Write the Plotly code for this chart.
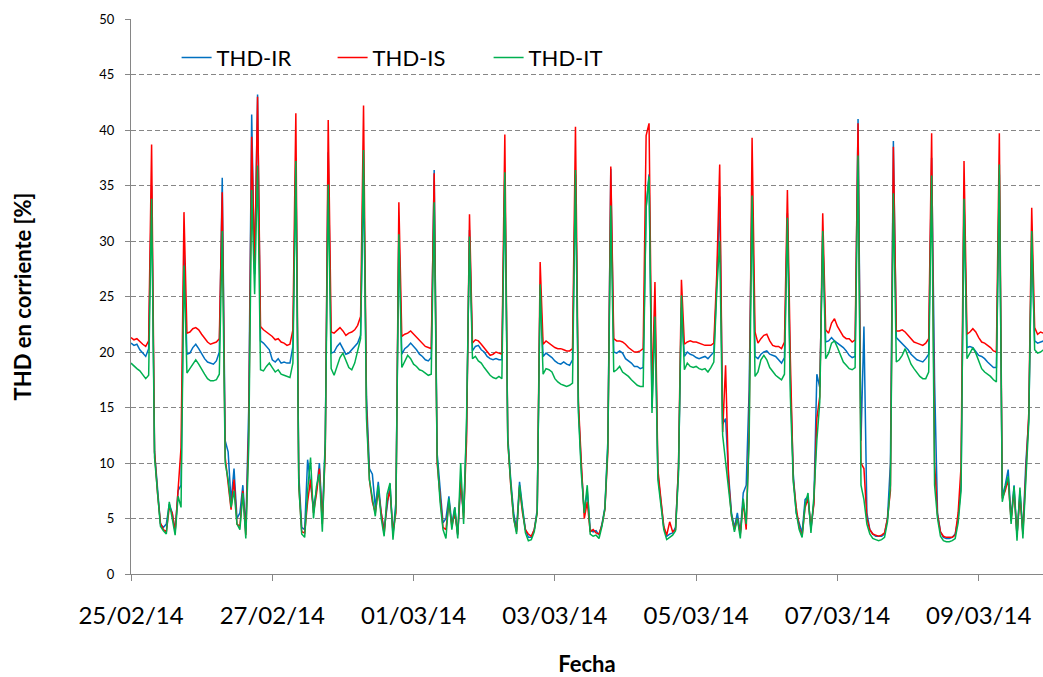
import pandas as pd
import plotly.graph_objects as go

# Hourly samples starting 25/02/2014 00:00 (one row per day)
start_time = "2014-02-25 00:00"

thd_ir = [
    20.8, 20.6, 20.7, 20.2, 19.9, 19.6, 20.3, 35.0, 11.0, 7.5, 4.5, 4.2, 4.5, 6.3, 5.5, 3.9, 7.5, 8.0, 29.0, 19.8, 19.9, 20.4, 20.7, 20.3,
    19.8, 19.4, 19.1, 19.0, 18.9, 19.2, 20.0, 35.7, 12.0, 11.0, 6.5, 9.5, 5.0, 5.5, 8.0, 4.0, 15.0, 41.4, 27.0, 43.2, 21.0, 20.8, 20.5, 20.2,
    19.3, 19.1, 19.4, 19.0, 19.1, 19.0, 19.0, 20.5, 37.5, 9.0, 4.2, 4.0, 10.3, 8.0, 6.0, 7.5, 10.0, 5.0, 12.0, 38.0, 19.9, 20.0, 20.5, 20.8,
    20.3, 19.8, 19.9, 20.2, 20.4, 20.8, 21.5, 36.0, 16.0, 9.5, 9.0, 6.0, 8.3, 5.5, 4.0, 6.0, 8.1, 3.5, 6.5, 31.0, 19.8, 20.3, 20.5, 20.8,
    20.5, 20.2, 19.8, 19.6, 19.3, 19.2, 19.5, 36.4, 10.9, 8.0, 4.6, 5.0, 7.0, 4.5, 6.0, 3.5, 8.0, 5.5, 13.0, 31.0, 20.1, 20.5, 20.6, 20.2,
    20.0, 19.6, 19.4, 19.3, 19.4, 19.3, 19.3, 36.0, 12.4, 8.5, 5.5, 4.0, 8.3, 6.0, 4.0, 3.3, 3.3, 4.0, 5.8, 26.0, 19.6, 19.9, 19.7, 19.5,
    19.2, 19.0, 18.9, 19.1, 18.9, 18.8, 19.3, 36.0, 15.0, 9.5, 5.5, 7.5, 4.0, 3.8, 3.9, 3.5, 4.5, 6.0, 12.0, 36.5, 20.0, 19.9, 20.1, 19.9,
    19.4, 19.2, 19.0, 18.7, 18.7, 18.5, 18.6, 33.0, 36.0, 15.0, 24.0, 9.0, 6.5, 4.2, 3.4, 3.6, 3.7, 4.2, 9.5, 24.0, 19.6, 20.0, 19.8, 19.7,
    19.5, 19.4, 19.5, 19.6, 19.4, 19.7, 20.0, 26.0, 34.0, 13.5, 14.0, 9.0, 5.5, 4.2, 5.5, 3.7, 7.3, 8.0, 16.6, 35.0, 19.6, 19.4, 19.8, 20.0,
    20.1, 19.8, 19.7, 19.6, 19.3, 19.0, 19.5, 32.5, 17.5, 9.0, 5.5, 4.5, 3.7, 6.7, 7.0, 4.0, 6.5, 18.0, 16.8, 30.5, 20.9, 21.0, 21.3, 21.0,
    20.8, 20.6, 20.4, 20.1, 19.7, 19.5, 19.6, 41.0, 12.0, 22.3, 5.5, 4.0, 3.6, 3.4, 3.4, 3.4, 3.6, 5.0, 10.0, 39.0, 21.3, 21.0, 20.8, 20.5,
    20.2, 19.8, 19.5, 19.3, 19.2, 19.1, 19.4, 19.8, 37.5, 17.4, 5.5, 3.8, 3.3, 3.2, 3.2, 3.3, 3.6, 5.0, 8.0, 34.0, 20.4, 20.5, 20.4, 20.0,
    19.7, 19.6, 19.4, 19.1, 18.8, 18.6, 18.6, 36.0, 7.0, 8.0, 9.4, 5.0, 8.0, 3.5, 7.5, 3.8, 10.0, 14.0, 30.0, 21.0, 20.8, 20.9, 21.0,
]

thd_is = [
    21.3, 21.1, 21.2, 20.9, 20.7, 20.5, 21.0, 38.7, 11.0, 7.3, 4.6, 4.0, 3.8, 6.0, 5.5, 3.8, 7.3, 11.4, 32.6, 21.7, 21.8, 22.1, 22.2, 22.0,
    21.6, 21.2, 20.9, 20.7, 20.8, 20.9, 21.2, 34.4, 10.5, 8.0, 5.8, 8.5, 4.5, 4.3, 7.5, 3.5, 13.0, 39.4, 27.5, 43.0, 22.3, 22.0, 21.8, 21.6,
    21.4, 21.1, 21.2, 20.9, 20.8, 20.6, 20.7, 22.0, 41.5, 8.0, 3.8, 3.7, 6.5, 8.5, 5.5, 7.2, 9.5, 4.5, 11.0, 40.9, 21.8, 21.7, 22.0, 22.2,
    21.9, 21.5, 21.7, 21.8, 22.0, 22.4, 23.2, 42.2, 15.0, 8.5, 6.5, 5.5, 7.5, 5.3, 3.6, 6.5, 7.5, 3.8, 5.5, 33.5, 21.4, 21.6, 21.7, 21.9,
    21.6, 21.3, 21.0, 20.8, 20.5, 20.4, 20.3, 36.1, 10.0, 7.0, 4.2, 4.0, 6.5, 4.3, 5.5, 3.6, 8.5, 5.0, 12.0, 32.4, 20.8, 21.1, 21.0, 20.7,
    20.4, 20.1, 19.7, 19.8, 20.0, 19.9, 19.8, 39.6, 12.0, 8.0, 5.0, 3.8, 7.8, 5.5, 4.0, 3.6, 3.4, 4.0, 5.5, 28.1, 20.7, 21.0, 20.8, 20.6,
    20.4, 20.3, 20.3, 20.2, 20.1, 20.1, 20.3, 40.3, 15.5, 10.0, 5.0, 6.5, 3.8, 4.0, 3.7, 3.6, 4.4, 5.8, 11.0, 36.7, 21.2, 21.0, 21.0, 20.9,
    20.7, 20.4, 20.2, 20.0, 20.0, 20.1, 20.3, 39.5, 40.6, 16.0, 26.3, 9.4, 6.8, 4.3, 3.5, 4.7, 3.8, 4.0, 9.7, 26.5, 20.7, 20.9, 21.0, 20.9,
    20.9, 20.8, 20.7, 20.6, 20.6, 20.6, 20.8, 27.0, 36.9, 12.8, 18.8, 8.5, 5.2, 4.0, 5.0, 3.6, 6.5, 4.0, 13.0, 39.3, 21.8, 20.8, 21.2, 21.5,
    21.6, 21.0, 20.6, 20.5, 20.5, 20.3, 20.9, 34.6, 19.4, 8.5, 6.0, 4.2, 3.4, 6.0, 6.8, 4.2, 6.3, 14.0, 16.0, 32.5, 22.0, 21.7, 22.6, 23.0,
    22.3, 21.8, 21.4, 21.2, 21.2, 20.9, 21.1, 40.6, 10.0, 9.5, 5.0, 4.0, 3.6, 3.5, 3.4, 3.5, 3.7, 5.0, 7.5, 38.5, 21.9, 21.9, 22.0, 21.8,
    21.5, 21.1, 20.9, 20.8, 20.7, 20.6, 20.8, 21.2, 39.7, 10.0, 5.3, 3.8, 3.4, 3.3, 3.3, 3.3, 3.5, 5.5, 9.7, 37.2, 21.6, 21.8, 22.1, 21.8,
    21.3, 20.9, 20.8, 20.6, 20.4, 20.1, 20.0, 39.7, 6.8, 7.5, 8.5, 4.8, 7.5, 3.5, 7.0, 3.6, 9.5, 14.5, 33.0, 22.2, 21.6, 21.8, 21.7,
]

thd_it = [
    19.0, 18.7, 18.5, 18.3, 18.0, 17.6, 17.9, 33.8, 10.5, 7.2, 4.3, 3.9, 3.6, 6.5, 5.0, 3.5, 7.0, 6.0, 27.8, 18.1, 18.5, 18.9, 19.3, 18.9,
    18.4, 18.0, 17.6, 17.4, 17.4, 17.5, 18.0, 30.9, 10.0, 8.5, 6.0, 7.5, 4.5, 4.0, 7.3, 3.2, 11.5, 34.6, 25.2, 36.8, 18.4, 18.3, 18.7, 19.0,
    18.6, 18.2, 18.4, 18.0, 17.9, 17.8, 17.7, 19.0, 37.2, 8.0, 3.6, 3.3, 7.5, 10.5, 5.0, 7.9, 9.0, 3.8, 11.8, 35.1, 18.5, 17.9, 18.8, 19.5,
    19.9, 19.2, 18.6, 18.4, 19.0, 20.1, 21.2, 38.2, 14.0, 8.5, 7.0, 5.2, 8.0, 5.0, 3.4, 7.2, 8.2, 3.1, 6.0, 30.6, 18.6, 19.2, 19.7, 19.4,
    18.9, 18.7, 18.4, 18.3, 18.1, 17.9, 18.0, 33.5, 10.5, 6.5, 4.0, 3.2, 6.8, 4.0, 6.0, 3.2, 10.0, 4.5, 14.0, 30.4, 19.4, 19.6, 19.2, 19.0,
    18.6, 18.2, 17.9, 17.7, 17.6, 17.8, 17.6, 36.2, 12.0, 8.2, 5.0, 3.6, 8.0, 5.8, 3.7, 3.0, 3.1, 3.8, 5.6, 26.1, 18.0, 18.5, 18.4, 18.2,
    17.6, 17.3, 17.1, 17.0, 16.9, 17.0, 17.2, 36.4, 14.5, 9.0, 5.5, 8.0, 3.6, 3.4, 3.5, 3.2, 4.3, 5.9, 11.5, 33.2, 18.2, 18.4, 18.7, 18.2,
    18.0, 17.8, 17.5, 17.2, 17.0, 16.9, 16.9, 33.0, 35.8, 14.5, 23.2, 8.5, 6.3, 4.0, 3.1, 3.3, 3.5, 3.9, 9.0, 25.1, 18.4, 19.0, 18.7, 18.6,
    18.7, 18.5, 18.4, 18.5, 18.2, 18.6, 19.1, 25.5, 30.0, 12.5, 10.0, 8.0, 5.3, 3.8, 5.0, 3.2, 6.8, 4.5, 12.0, 34.1, 17.8, 18.2, 19.3, 19.7,
    19.3, 18.6, 18.2, 17.9, 17.7, 17.5, 18.0, 32.1, 16.0, 8.3, 5.5, 4.0, 3.3, 6.2, 7.3, 3.7, 7.0, 12.0, 15.5, 30.9, 19.4, 19.9, 20.8, 21.0,
    20.4, 19.8, 19.1, 18.8, 18.5, 18.4, 18.6, 37.7, 8.0, 6.7, 4.5, 3.6, 3.2, 3.1, 3.0, 3.1, 3.3, 4.7, 8.0, 34.3, 19.1, 19.3, 19.7, 20.3,
    19.6, 18.9, 18.5, 18.1, 17.8, 17.6, 17.6, 18.2, 35.9, 8.0, 5.0, 3.4, 3.0, 2.9, 2.9, 3.0, 3.2, 4.6, 7.5, 33.8, 19.4, 19.9, 20.4, 19.9,
    19.2, 18.5, 18.2, 18.0, 17.8, 17.5, 17.3, 36.9, 6.5, 7.8, 8.8, 4.5, 7.9, 3.0, 7.8, 3.2, 9.0, 13.6, 30.9, 20.2, 19.9, 20.0, 20.2,
]

series_names = ["THD-IR", "THD-IS", "THD-IT"]
series_values = [thd_ir, thd_is, thd_it]
series_colors = ["#0070C0", "#FF0000", "#00B050"]

x_range = ["2014-02-25 00:00", "2014-03-09 21:50"]
y_ticks = [0, 5, 10, 15, 20, 25, 30, 35, 40, 45, 50]

FONT = "Lato, 'Open Sans', sans-serif"

fig = go.Figure()
for name, vals, col in zip(series_names, series_values, series_colors):
    t = pd.date_range(start_time, periods=len(vals), freq="h")
    fig.add_trace(go.Scatter(x=t, y=vals, mode="lines", name=name,
                             line=dict(color=col, width=1.5)))

fig.update_layout(
    width=1043, height=677,
    margin=dict(l=131, r=0, t=19, b=103),
    paper_bgcolor="white", plot_bgcolor="white",
    font=dict(family=FONT, color="black"),
    showlegend=True,
    legend=dict(orientation="h", x=0.05, y=0.968, xanchor="left", yanchor="top",
                font=dict(size=22, family=FONT), entrywidth=111,
                entrywidthmode="pixels", bgcolor="rgba(0,0,0,0)", traceorder="normal"),
)

fig.update_xaxes(
    type="date", range=x_range, tick0="2014-02-25", dtick=2 * 86400000,
    tickformat="%d/%m/%y", showgrid=False, zeroline=False,
    showline=True, linecolor="#868686", linewidth=1,
    ticks="outside", ticklen=6, tickcolor="#868686", tickwidth=1,
    tickfont=dict(size=24, family=FONT), ticklabelstandoff=14,
    title=dict(text="<b>Fecha</b>", font=dict(size=22, family=FONT), standoff=30),
)

fig.update_yaxes(
    range=[0, 50], tickvals=y_ticks, showgrid=True, gridcolor="#868686",
    griddash="5px,3px", gridwidth=1, zeroline=False,
    showline=True, linecolor="#868686", linewidth=1,
    ticks="outside", ticklen=5, tickcolor="#868686", tickwidth=1,
    tickfont=dict(size=13, family=FONT), ticklabelstandoff=8,
    title=dict(text="<b>THD en corriente [%]</b>", font=dict(size=22, family=FONT), standoff=61),
)

fig.write_html("out.html", config={"displayModeBar": False},
               post_script=["document.body.style.margin='0px';document.body.style.overflow='hidden';"])
